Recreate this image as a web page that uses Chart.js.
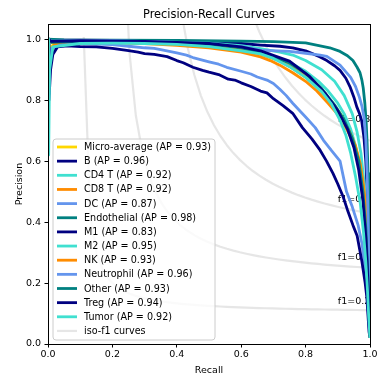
<!DOCTYPE html>
<html>
<head>
<meta charset="utf-8">
<script src="https://cdn.jsdelivr.net/npm/chart.js@4.4.1/dist/chart.umd.min.js"></script>
<style>
  html, body { margin: 0; padding: 0; background: #fff; }
  #wrap { width: 377px; height: 376px; }
</style>
</head>
<body>
<div id="wrap"><canvas id="c" width="377" height="376"></canvas></div>
<script>
// ---------------- data ----------------
const categories = ["Micro-average", "B", "CD4 T", "CD8 T", "DC", "Endothelial", "M1", "M2", "NK", "Neutrophil", "Other", "Treg", "Tumor"];
const apScores = [0.93, 0.96, 0.92, 0.92, 0.87, 0.98, 0.83, 0.95, 0.93, 0.96, 0.93, 0.94, 0.92];
const xTicks = [0.0, 0.2, 0.4, 0.6, 0.8, 1.0];
const yTicks = [0.0, 0.2, 0.4, 0.6, 0.8, 1.0];
const isoF1Scores = [0.2, 0.4, 0.6, 0.8];

const recall_Micro = [0, 0.005, 0.02, 0.1, 0.2, 0.3, 0.4, 0.5, 0.6, 0.66, 0.72, 0.76, 0.8, 0.85, 0.88, 0.907, 0.925, 0.94, 0.955, 0.968, 0.978, 0.986, 0.992, 0.996, 1.0];
const precision_Micro = [1.0, 0.97, 0.985, 0.99, 0.99, 0.988, 0.985, 0.978, 0.965, 0.95, 0.93, 0.905, 0.875, 0.83, 0.795, 0.757, 0.725, 0.69, 0.645, 0.59, 0.52, 0.43, 0.3, 0.16, 0.03];

const recall_B = [0, 0.01, 0.05, 0.1, 0.2, 0.3, 0.4, 0.5, 0.6, 0.66, 0.72, 0.76, 0.8, 0.845, 0.866, 0.89, 0.907, 0.925, 0.938, 0.95, 0.959, 0.967, 0.974, 0.981, 0.987, 0.991, 0.995, 0.998, 1.0];
const precision_B = [1.0, 0.998, 0.997, 0.997, 0.996, 0.995, 0.993, 0.99, 0.986, 0.981, 0.977, 0.972, 0.962, 0.942, 0.93, 0.913, 0.898, 0.872, 0.844, 0.81, 0.778, 0.757, 0.734, 0.68, 0.6, 0.5, 0.33, 0.15, 0.04];

const recall_CD4T = [0, 0.003, 0.007, 0.02, 0.1, 0.2, 0.3, 0.4, 0.5, 0.6, 0.66, 0.72, 0.76, 0.8, 0.84, 0.87, 0.9, 0.92, 0.94, 0.955, 0.967, 0.977, 0.985, 0.991, 0.995, 0.998, 1.0];
const precision_CD4T = [1.0, 0.82, 0.94, 0.982, 0.99, 0.99, 0.989, 0.986, 0.979, 0.968, 0.955, 0.935, 0.918, 0.895, 0.862, 0.83, 0.79, 0.755, 0.705, 0.65, 0.585, 0.5, 0.4, 0.3, 0.19, 0.09, 0.02];

const recall_CD8T = [0, 0.005, 0.02, 0.1, 0.2, 0.3, 0.4, 0.5, 0.6, 0.66, 0.69, 0.72, 0.76, 0.8, 0.835, 0.87, 0.897, 0.92, 0.94, 0.96, 0.975, 0.985, 0.99, 0.994, 0.997, 1.0];
const precision_CD8T = [1.0, 0.95, 0.983, 0.988, 0.988, 0.986, 0.98, 0.972, 0.958, 0.942, 0.93, 0.915, 0.89, 0.862, 0.83, 0.79, 0.757, 0.72, 0.68, 0.62, 0.55, 0.45, 0.38, 0.25, 0.12, 0.02];

const recall_DC = [0, 0.004, 0.01, 0.05, 0.1, 0.15, 0.2, 0.25, 0.3, 0.33, 0.35, 0.4, 0.43, 0.45, 0.5, 0.53, 0.555, 0.6, 0.63, 0.65, 0.68, 0.7, 0.72, 0.74, 0.76, 0.8, 0.83, 0.855, 0.88, 0.907, 0.927, 0.945, 0.963, 0.975, 0.985, 0.992, 0.997, 1.0];
const precision_DC = [1.0, 0.93, 0.97, 0.985, 0.985, 0.984, 0.982, 0.977, 0.972, 0.97, 0.966, 0.955, 0.948, 0.94, 0.926, 0.918, 0.908, 0.895, 0.886, 0.876, 0.866, 0.855, 0.836, 0.815, 0.79, 0.745, 0.71, 0.669, 0.635, 0.6, 0.5, 0.45, 0.39, 0.33, 0.25, 0.15, 0.06, 0.03];

const recall_Endothelial = [0, 0.05, 0.2, 0.4, 0.6, 0.7, 0.8, 0.845, 0.875, 0.907, 0.93, 0.947, 0.96, 0.969, 0.975, 0.979, 0.984, 0.988, 0.991, 0.994, 0.996, 0.998, 0.999, 1.0];
const precision_Endothelial = [1.0, 0.998, 0.997, 0.996, 0.994, 0.992, 0.988, 0.978, 0.972, 0.96, 0.946, 0.93, 0.908, 0.89, 0.865, 0.84, 0.79, 0.73, 0.66, 0.56, 0.44, 0.28, 0.14, 0.05];

const recall_M1 = [0, 0.003, 0.008, 0.015, 0.03, 0.06, 0.1, 0.15, 0.2, 0.25, 0.28, 0.3, 0.33, 0.37, 0.4, 0.42, 0.45, 0.48, 0.5, 0.53, 0.56, 0.58, 0.6, 0.63, 0.66, 0.68, 0.7, 0.73, 0.76, 0.79, 0.82, 0.845, 0.865, 0.885, 0.9, 0.916, 0.93, 0.947, 0.96, 0.975, 0.985, 0.99, 0.994, 0.997, 1.0];
const precision_M1 = [1.0, 0.8, 0.9, 0.95, 0.975, 0.978, 0.976, 0.975, 0.97, 0.963, 0.958, 0.953, 0.95, 0.943, 0.93, 0.923, 0.908, 0.898, 0.892, 0.884, 0.869, 0.866, 0.857, 0.845, 0.83, 0.824, 0.805, 0.782, 0.757, 0.71, 0.672, 0.636, 0.6, 0.56, 0.525, 0.485, 0.44, 0.39, 0.355, 0.27, 0.2, 0.155, 0.09, 0.04, 0.02];

const recall_M2 = [0, 0.01, 0.1, 0.3, 0.5, 0.6, 0.66, 0.72, 0.76, 0.8, 0.85, 0.89, 0.92, 0.945, 0.96, 0.972, 0.982, 0.99, 0.995, 0.998, 1.0];
const precision_M2 = [1.0, 0.992, 0.995, 0.993, 0.987, 0.979, 0.969, 0.958, 0.948, 0.93, 0.9, 0.862, 0.815, 0.755, 0.695, 0.625, 0.525, 0.4, 0.25, 0.12, 0.03];

const recall_NK = [0, 0.01, 0.1, 0.2, 0.3, 0.4, 0.5, 0.6, 0.66, 0.72, 0.76, 0.8, 0.84, 0.88, 0.91, 0.935, 0.955, 0.97, 0.98, 0.988, 0.993, 0.996, 0.998, 1.0];
const precision_NK = [1.0, 0.99, 0.992, 0.992, 0.99, 0.986, 0.98, 0.968, 0.953, 0.93, 0.905, 0.877, 0.84, 0.79, 0.745, 0.7, 0.65, 0.59, 0.52, 0.44, 0.33, 0.2, 0.1, 0.03];

const recall_Neutrophil = [0, 0.01, 0.1, 0.2, 0.4, 0.6, 0.66, 0.75, 0.8, 0.845, 0.866, 0.907, 0.94, 0.955, 0.967, 0.975, 0.982, 0.987, 0.991, 0.994, 0.997, 1.0];
const precision_Neutrophil = [1.0, 0.994, 0.995, 0.995, 0.99, 0.976, 0.964, 0.96, 0.954, 0.948, 0.944, 0.915, 0.875, 0.845, 0.81, 0.78, 0.74, 0.67, 0.56, 0.42, 0.22, 0.04];

const recall_Other = [0, 0.01, 0.1, 0.3, 0.5, 0.6, 0.66, 0.75, 0.8, 0.85, 0.89, 0.92, 0.945, 0.965, 0.978, 0.987, 0.993, 0.997, 1.0];
const precision_Other = [1.0, 0.99, 0.993, 0.991, 0.984, 0.972, 0.958, 0.922, 0.888, 0.838, 0.785, 0.735, 0.675, 0.6, 0.5, 0.38, 0.24, 0.11, 0.03];

const recall_Treg = [0, 0.01, 0.1, 0.3, 0.5, 0.6, 0.66, 0.75, 0.813, 0.86, 0.9, 0.93, 0.95, 0.965, 0.978, 0.987, 0.993, 0.997, 1.0];
const precision_Treg = [1.0, 0.993, 0.995, 0.993, 0.986, 0.975, 0.962, 0.928, 0.877, 0.823, 0.765, 0.705, 0.645, 0.57, 0.47, 0.35, 0.22, 0.1, 0.03];

const recall_Tumor = [0, 0.002, 0.005, 0.015, 0.1, 0.2, 0.3, 0.4, 0.5, 0.6, 0.66, 0.7, 0.75, 0.8, 0.85, 0.88, 0.907, 0.925, 0.94, 0.955, 0.97, 0.98, 0.987, 0.992, 0.996, 1.0];
const precision_Tumor = [1.0, 0.62, 0.9, 0.975, 0.986, 0.987, 0.986, 0.983, 0.976, 0.962, 0.952, 0.937, 0.91, 0.875, 0.828, 0.788, 0.734, 0.685, 0.626, 0.55, 0.46, 0.364, 0.27, 0.18, 0.09, 0.02];

const recallSeries = [recall_Micro, recall_B, recall_CD4T, recall_CD8T, recall_DC, recall_Endothelial, recall_M1, recall_M2, recall_NK, recall_Neutrophil, recall_Other, recall_Treg, recall_Tumor];
const precisionSeries = [precision_Micro, precision_B, precision_CD4T, precision_CD8T, precision_DC, precision_Endothelial, precision_M1, precision_M2, precision_NK, precision_Neutrophil, precision_Other, precision_Treg, precision_Tumor];

// ---------------- styles ----------------
const seriesColors = ["#FFD700", "#000080", "#40E0D0", "#FF8C00", "#6495ED", "#008080", "#000080", "#40E0D0", "#FF8C00", "#6495ED", "#008080", "#000080", "#40E0D0"];
const isoColor = "rgba(128,128,128,0.2)";
const FONT = "'DejaVu Sans', sans-serif";
const LW = 2.8;

// iso-f1 reference curves (definition: precision = f*r/(2r-f)), same grid as the sklearn example
function isoCurve(f) {
  const pts = [];
  const n = 50;
  for (let i = 0; i < n; i++) {
    const x = 0.01 + i * (1 - 0.01) / (n - 1);
    const y = f * x / (2 * x - f);
    if (y >= 0) pts.push({x: x, y: y});
  }
  return pts;
}

const datasets = [];
isoF1Scores.forEach((f) => {
  datasets.push({ label: "iso", data: isoCurve(f), borderColor: isoColor, borderWidth: 2.2 });
});
categories.forEach((name, i) => {
  datasets.push({
    label: name + " (AP = " + apScores[i].toFixed(2) + ")",
    data: recallSeries[i].map((r, k) => ({x: r, y: precisionSeries[i][k]})),
    borderColor: seriesColors[i],
    borderWidth: LW
  });
});
const N = datasets.length;
datasets.forEach((d, i) => {
  d.order = N - i;
  d.showLine = true;
  d.pointRadius = 0;
  d.fill = false;
  d.tension = 0;
  d.borderJoinStyle = "round";
  d.borderCapStyle = "butt";
});

const overlay = {
  id: "overlay",
  beforeDatasetsDraw(chart) {
    const ctx = chart.ctx, xs = chart.scales.x, ys = chart.scales.y;
    ctx.save();
    ctx.fillStyle = "#000";
    ctx.font = "9.5px " + FONT;
    ctx.textAlign = "left";
    ctx.textBaseline = "alphabetic";
    isoF1Scores.forEach((f) => {
      const x45 = 0.01 + 45 * (1 - 0.01) / 49;
      const y45 = f * x45 / (2 * x45 - f);
      ctx.fillText("f1=" + f.toFixed(1), xs.getPixelForValue(0.9), ys.getPixelForValue(y45 + 0.02));
    });
    ctx.restore();
  },
  afterDraw(chart) {
    const ctx = chart.ctx, a = chart.chartArea;
    ctx.save();
    // frame
    ctx.strokeStyle = "#000";
    ctx.lineWidth = 1;
    ctx.strokeRect(Math.round(a.left) + 0.5, Math.round(a.top) + 0.5, Math.round(a.right - a.left), Math.round(a.bottom - a.top));
    // title
    ctx.fillStyle = "#000";
    ctx.textAlign = "center";
    ctx.textBaseline = "alphabetic";
    ctx.font = "11.4px " + FONT;
    ctx.fillText("Precision-Recall Curves", (a.left + a.right) / 2, 18.3);
    // x label
    ctx.font = "9.5px " + FONT;
    ctx.fillText("Recall", (a.left + a.right) / 2, 373);
    // y label
    ctx.save();
    ctx.translate(22, (a.top + a.bottom) / 2);
    ctx.rotate(-Math.PI / 2);
    ctx.fillText("Precision", 0, 0);
    ctx.restore();
    // legend
    const bx = 53, by = 139, bw = 162, bh = 201, rad = 3;
    ctx.beginPath();
    ctx.moveTo(bx + rad, by);
    ctx.lineTo(bx + bw - rad, by); ctx.quadraticCurveTo(bx + bw, by, bx + bw, by + rad);
    ctx.lineTo(bx + bw, by + bh - rad); ctx.quadraticCurveTo(bx + bw, by + bh, bx + bw - rad, by + bh);
    ctx.lineTo(bx + rad, by + bh); ctx.quadraticCurveTo(bx, by + bh, bx, by + bh - rad);
    ctx.lineTo(bx, by + rad); ctx.quadraticCurveTo(bx, by, bx + rad, by);
    ctx.closePath();
    ctx.fillStyle = "rgba(255,255,255,0.8)";
    ctx.fill();
    ctx.strokeStyle = "#cccccc";
    ctx.lineWidth = 1;
    ctx.stroke();
    const entries = categories.map((c, i) => ({ text: c + " (AP = " + apScores[i].toFixed(2) + ")", color: seriesColors[i], lw: LW }));
    entries.push({ text: "iso-f1 curves", color: isoColor, lw: 2.2 });
    ctx.font = "9.6px " + FONT;
    ctx.textAlign = "left";
    ctx.textBaseline = "middle";
    entries.forEach((e, i) => {
      const y = 147 + i * 14.15;
      ctx.beginPath();
      ctx.moveTo(57, y);
      ctx.lineTo(77, y);
      ctx.strokeStyle = e.color;
      ctx.lineWidth = e.lw;
      ctx.stroke();
      ctx.fillStyle = "#000";
      ctx.fillText(e.text, 84, y + 0.5);
    });
    ctx.restore();
  }
};

new Chart(document.getElementById("c"), {
  type: "scatter",
  data: { datasets: datasets },
  options: {
    responsive: false,
    animation: false,
    devicePixelRatio: 1,
    events: [],
    layout: { padding: { left: 0, right: 7, top: 24, bottom: 0 } },
    plugins: { legend: { display: false }, tooltip: { enabled: false }, title: { display: false } },
    scales: {
      x: {
        type: "linear", min: 0, max: 1,
        afterFit(s) { s.height = 32; s.paddingLeft = 0; s.paddingRight = 0; },
        afterBuildTicks(s) { s.ticks = xTicks.map(v => ({ value: v })); },
        grid: { drawOnChartArea: false, drawTicks: true, tickLength: 3.5, color: "#000", lineWidth: 1 },
        border: { display: true, color: "#000", width: 1 },
        ticks: { color: "#000", font: { family: FONT, size: 9.5 }, padding: 1.5, maxRotation: 0, autoSkip: false, callback: v => Number(v).toFixed(1) }
      },
      y: {
        type: "linear", min: 0, max: 1.05,
        afterFit(s) { s.width = 48; s.paddingTop = 0; s.paddingBottom = 0; },
        afterBuildTicks(s) { s.ticks = yTicks.map(v => ({ value: v })); },
        grid: { drawOnChartArea: false, drawTicks: true, tickLength: 3.5, color: "#000", lineWidth: 1 },
        border: { display: true, color: "#000", width: 1 },
        ticks: { color: "#000", font: { family: FONT, size: 9.5 }, padding: 3.5, autoSkip: false, callback: v => Number(v).toFixed(1) }
      }
    }
  },
  plugins: [overlay]
});
</script>
</body>
</html>
